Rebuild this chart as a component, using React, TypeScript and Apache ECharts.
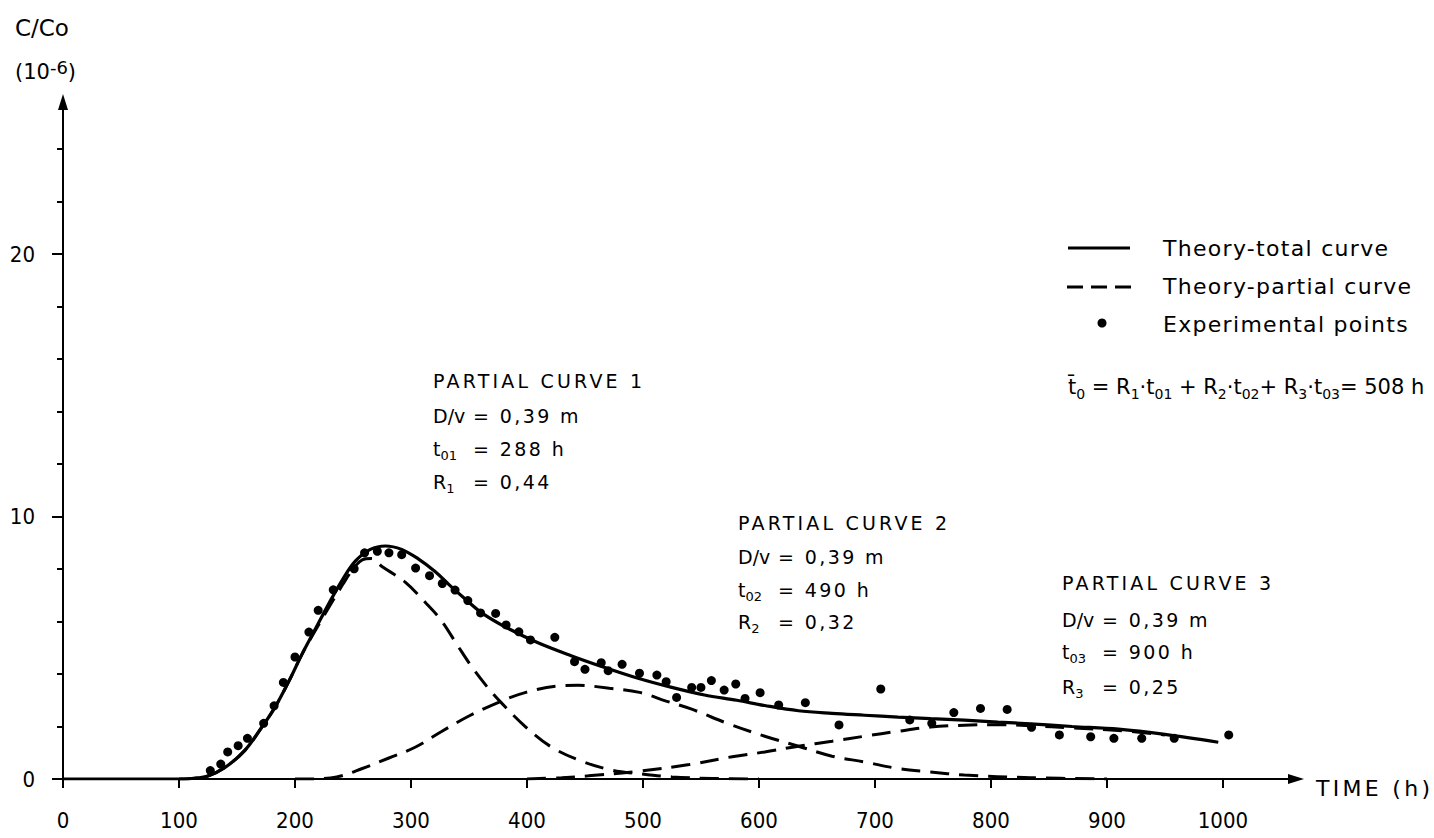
import React, { useEffect, useRef } from "react";
import * as echarts from "echarts";

// ---------- data ----------
const xTickValues = [0, 100, 200, 300, 400, 500, 600, 700, 800, 900, 1000];
const yMajorTickValues = [0, 10, 20];
const yMinorTickValues = [2, 4, 6, 8, 12, 14, 16, 18, 22, 24];

const totalTime = [0, 100, 111, 124, 140, 157, 171, 183, 195, 206, 218, 230, 241, 252, 265, 278, 292, 306, 321, 333, 347, 362, 381, 409, 438, 467, 495, 524, 553, 581, 605, 634, 663, 691, 720, 748, 777, 806, 834, 870, 910, 950, 996];
const totalValue = [0, 0, 0.02, 0.1, 0.45, 1.1, 1.95, 2.75, 3.75, 4.75, 5.75, 6.75, 7.6, 8.3, 8.75, 8.88, 8.75, 8.4, 7.9, 7.4, 6.85, 6.3, 5.8, 5.2, 4.7, 4.25, 3.85, 3.5, 3.2, 3.0, 2.8, 2.6, 2.5, 2.43, 2.36, 2.3, 2.24, 2.17, 2.1, 2.0, 1.9, 1.7, 1.4];

const partial1Time = [100, 111, 124, 140, 157, 171, 183, 195, 206, 218, 230, 241, 250, 258, 266, 275, 295, 313, 326, 340, 352, 365, 378, 399, 421, 447, 473, 497, 525, 560, 600];
const partial1Value = [0, 0.02, 0.1, 0.45, 1.1, 1.95, 2.75, 3.75, 4.75, 5.7, 6.6, 7.4, 8.0, 8.35, 8.4, 8.1, 7.5, 6.7, 6.05, 5.1, 4.3, 3.55, 2.9, 1.98, 1.22, 0.68, 0.34, 0.2, 0.08, 0.02, 0];

const partial2Time = [200, 212, 236, 258, 281, 304, 326, 350, 378, 399, 425, 444, 471, 497, 520, 542, 574, 605, 634, 663, 691, 720, 748, 777, 834, 900];
const partial2Value = [0, 0, 0.08, 0.4, 0.8, 1.22, 1.8, 2.4, 2.97, 3.3, 3.54, 3.57, 3.46, 3.3, 2.97, 2.66, 2.1, 1.63, 1.25, 0.87, 0.65, 0.4, 0.27, 0.15, 0.05, 0];

const partial3Time = [400, 430, 453, 497, 540, 577, 605, 634, 663, 691, 720, 748, 777, 806, 834, 870, 910, 950];
const partial3Value = [0, 0.05, 0.12, 0.3, 0.55, 0.85, 1.03, 1.25, 1.44, 1.63, 1.82, 1.98, 2.05, 2.07, 2.03, 1.95, 1.85, 1.68];

const expTime = [127, 136, 142, 151, 159, 173, 182, 190, 200, 212, 220, 233, 251, 260, 271, 281, 292, 304, 316, 327, 338, 349, 360, 373, 382, 393, 403, 424, 441, 450, 464, 470, 482, 497, 512, 520, 529, 542, 550, 559, 570, 580, 588, 601, 617, 640, 669, 705, 730, 749, 768, 791, 814, 835, 859, 886, 906, 930, 958, 1005];
const expValue = [0.32, 0.57, 1.03, 1.27, 1.55, 2.12, 2.79, 3.68, 4.65, 5.6, 6.43, 7.21, 8.01, 8.62, 8.68, 8.62, 8.55, 8.04, 7.75, 7.45, 7.2, 6.8, 6.33, 6.31, 5.87, 5.61, 5.3, 5.4, 4.47, 4.18, 4.43, 4.13, 4.37, 4.03, 3.96, 3.71, 3.11, 3.49, 3.49, 3.75, 3.39, 3.62, 3.07, 3.29, 2.82, 2.91, 2.06, 3.43, 2.25, 2.12, 2.53, 2.69, 2.65, 1.97, 1.68, 1.61, 1.55, 1.55, 1.55, 1.68];

const legendLabels = ["Theory-total curve", "Theory-partial curve", "Experimental points"];

// ---------- helpers ----------
const zip = (a: number[], b: number[]) => a.map((t, i) => [t, b[i]]);
// font stacks; the second family name only serves as a marker for the letter-spacing rules below
const FONT = "'DejaVu Sans', sans-serif";
const FONT_HEAD = "'DejaVu Sans', 'Noto Sans', sans-serif";
const FONT_VAL = "'DejaVu Sans', 'Open Sans', sans-serif";
const FONT_LEG = "'DejaVu Sans', Lato, sans-serif";
const FONT_NAME = "'DejaVu Sans', Inter, sans-serif";
const AXFONT = "'Liberation Sans Narrow', 'DejaVu Sans Condensed', 'DejaVu Sans', sans-serif";

const CSS = `
#chart text[style*="Noto Sans"] { letter-spacing: 3.2px; }
#chart text[style*="Open Sans"] { letter-spacing: 2.4px; }
#chart text[style*="Lato"] { letter-spacing: 1.3px; }
#chart text[style*="Inter"] { letter-spacing: 3.3px; }
`;

const plain = (x: number, y: number, text: string, size: number, family: string) => ({
  type: "text",
  x,
  y,
  style: { text, fontSize: size, fontFamily: family, fill: "#000", verticalAlign: "middle", align: "left" },
});

const richStyles = (size: number) => ({
  m: { fontSize: size, fontFamily: FONT, lineHeight: size + 6, fill: "#000" },
  s: { fontSize: Math.round(size * 0.68), fontFamily: FONT, verticalAlign: "bottom", fill: "#000" },
  p: { fontSize: Math.round(size * 0.88), fontFamily: FONT, verticalAlign: "top", fill: "#000" },
});

const rich = (x: number, y: number, text: string, size: number) => ({
  type: "text",
  x,
  y,
  style: {
    text,
    fontSize: size,
    fontFamily: FONT,
    fill: "#000",
    verticalAlign: "middle",
    align: "left",
    rich: richStyles(size),
  },
});

const annotation = (x: number, ys: number[], n: string, t0: string, r: string, eqX: number) => [
  plain(x, ys[0], `PARTIAL CURVE ${n}`, 19, FONT_HEAD),
  plain(x, ys[1], "D/v", 19, FONT),
  plain(eqX, ys[1], "= 0,39 m", 19, FONT_VAL),
  rich(x, ys[2], `{m|t}{s|0${n}}`, 19),
  plain(eqX, ys[2], `= ${t0} h`, 19, FONT_VAL),
  rich(x, ys[3], `{m|R}{s|${n}}`, 19),
  plain(eqX, ys[3], `= ${r}`, 19, FONT_VAL),
];

export default function App() {
  const ref = useRef<HTMLDivElement>(null);

  useEffect(() => {
    const chart = echarts.init(ref.current!, null, { renderer: "svg" });
    const axisLineStyle = { color: "#000", width: 2 };
    const dashed = { color: "#000", width: 3, type: [19, 10] as number[] };

    chart.setOption({
      animation: false,
      backgroundColor: "#fff",
      textStyle: { fontFamily: FONT, color: "#000" },
      grid: { left: 63, top: 102, width: 1233, height: 677, containLabel: false },
      xAxis: {
        type: "value",
        min: 0,
        max: 1063,
        interval: 100,
        name: "TIME (h)",
        nameLocation: "end",
        nameGap: 20,
        nameTextStyle: { fontSize: 22, lineHeight: 18, fontFamily: FONT_NAME, color: "#000", align: "left", verticalAlign: "top" },
        axisLine: { show: true, lineStyle: axisLineStyle, symbol: ["none", "triangle"], symbolSize: [10, 16] },
        axisTick: { show: true, length: 9, lineStyle: axisLineStyle, customValues: xTickValues },
        axisLabel: {
          customValues: xTickValues,
          margin: 30,
          fontSize: 22,
          fontFamily: AXFONT,
          color: "#000",
          formatter: (v: number) => String(v),
        },
        splitLine: { show: false },
      },
      yAxis: [
        {
          type: "value",
          min: 0,
          max: 25.8,
          interval: 10,
          position: "left",
          axisLine: { show: true, lineStyle: axisLineStyle, symbol: ["none", "triangle"], symbolSize: [10, 16] },
          axisTick: { show: true, length: 11, lineStyle: axisLineStyle, customValues: yMajorTickValues },
          axisLabel: {
            customValues: yMajorTickValues,
            margin: 28,
            fontSize: 22,
            fontFamily: AXFONT,
            color: "#000",
            formatter: (v: number) => String(v),
          },
          splitLine: { show: false },
        },
        {
          type: "value",
          min: 0,
          max: 25.8,
          interval: 2,
          position: "left",
          offset: 0,
          axisLine: { show: false },
          axisTick: { show: true, length: 6, lineStyle: axisLineStyle, customValues: yMinorTickValues },
          axisLabel: { show: false },
          splitLine: { show: false },
        },
      ],
      series: [
        {
          name: legendLabels[0],
          type: "line",
          data: zip(totalTime, totalValue),
          smooth: 0.35,
          showSymbol: false,
          lineStyle: { color: "#000", width: 3.2 },
          z: 4,
        },
        { name: legendLabels[1], type: "line", data: zip(partial1Time, partial1Value), smooth: 0.35, showSymbol: false, lineStyle: dashed, z: 3 },
        { name: legendLabels[1], type: "line", data: zip(partial2Time, partial2Value), smooth: 0.35, showSymbol: false, lineStyle: dashed, z: 3 },
        { name: legendLabels[1], type: "line", data: zip(partial3Time, partial3Value), smooth: 0.35, showSymbol: false, lineStyle: dashed, z: 3 },
        {
          name: legendLabels[2],
          type: "scatter",
          data: zip(expTime, expValue),
          symbolSize: 9,
          itemStyle: { color: "#000", opacity: 1 },
          z: 5,
        },
      ],
      graphic: [
        plain(15, 28, "C/Co", 23, FONT),
        rich(15, 72, "{m|(10}{p|-6}{m|)}", 21),
        { type: "line", shape: { x1: 1068, y1: 248, x2: 1130, y2: 248 }, style: { stroke: "#000", lineWidth: 3 } },
        { type: "line", shape: { x1: 1067, y1: 287, x2: 1131, y2: 287 }, style: { stroke: "#000", lineWidth: 3, lineDash: [16, 8] } },
        { type: "circle", shape: { cx: 1102, cy: 323, r: 4.5 }, style: { fill: "#000" } },
        plain(1163, 248, legendLabels[0], 22, FONT_LEG),
        plain(1163, 286, legendLabels[1], 22, FONT_LEG),
        plain(1163, 324, legendLabels[2], 22, FONT_LEG),
        rich(1068, 387, "{m|t\u0304}{s|0}{m| = R}{s|1}{m|·t}{s|01}{m| + R}{s|2}{m|·t}{s|02}{m|+ R}{s|3}{m|·t}{s|03}{m|= 508 h}", 21),
        ...annotation(433, [381, 416, 449, 482], "1", "288", "0,44", 473),
        ...annotation(738, [523, 557, 590, 622], "2", "490", "0,32", 778),
        ...annotation(1062, [583, 620, 652, 687], "3", "900", "0,25", 1102),
      ],
    });
    return () => chart.dispose();
  }, []);

  return (
    <>
      <style>{CSS}</style>
      <div
        id="chart"
        ref={ref}
        style={{ position: "fixed", left: 0, top: 0, width: 1434, height: 838, background: "#fff" }}
      />
    </>
  );
}
